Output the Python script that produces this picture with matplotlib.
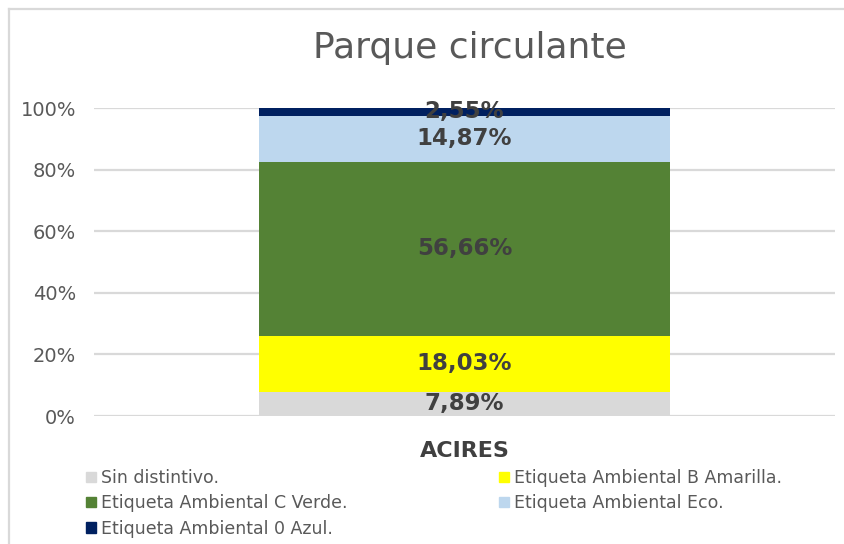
import matplotlib.pyplot as plt
from matplotlib.lines import Line2D
from matplotlib.patches import Patch
from matplotlib.ticker import FuncFormatter

plt.rcParams['font.family'] = ['DejaVu Sans']

# data
category = ['ACIRES']
series = ['Sin distintivo.', 'Etiqueta Ambiental B Amarilla.', 'Etiqueta Ambiental C Verde.',
          'Etiqueta Ambiental Eco.', 'Etiqueta Ambiental 0 Azul.']
values = [7.89, 18.03, 56.66, 14.87, 2.55]
colors = ['#D9D9D9', '#FFFF00', '#548235', '#BDD7EE', '#002060']

fig = plt.figure(figsize=(8.45, 5.44), dpi=100)
ax = fig.add_axes([94 / 845, 1 - 416 / 544, (835 - 94) / 845, (416 - 108) / 544])

# outer chart border (only left and top edges visible in the crop)
bx, by = 9 / 845, 1 - 9 / 544
fig.add_artist(Line2D([bx, bx], [0, by], transform=fig.transFigure, color='#D9D9D9', linewidth=1.6))
fig.add_artist(Line2D([bx, 1], [by, by], transform=fig.transFigure, color='#D9D9D9', linewidth=1.6))

bottom = 0
for name, v, c in zip(series, values, colors):
    b = ax.bar(0, v / 100, bottom=bottom / 100, width=0.556, color=c, label=name, zorder=2)
    labels = [f'{v:.2f}%'.replace('.', ',')]
    ax.bar_label(b, labels=labels, label_type='center', fontsize=16.5, fontweight='bold',
                 color='#404040', zorder=3)
    bottom += v

ax.set_xlim(-0.5, 0.5)
ax.set_ylim(0, 1)
ax.set_yticks([0, 0.2, 0.4, 0.6, 0.8, 1.0])
ax.yaxis.set_major_formatter(FuncFormatter(lambda y, _: f'{y * 100:.0f}%'))
ax.set_xticks([0])
ax.set_xticklabels(category, fontsize=16, fontweight='bold', color='#404040')
ax.tick_params(axis='both', length=0)
ax.tick_params(axis='y', labelsize=14, labelcolor='#595959', pad=13)
ax.tick_params(axis='x', pad=18)
ax.grid(axis='y', color='#D9D9D9', linewidth=1.6, zorder=0)
ax.set_axisbelow(True)
for s in ax.spines.values():
    s.set_visible(False)

fig.text(470 / 845, 1 - 48 / 544, 'Parque circulante', fontsize=26, color='#595959',
         ha='center', va='center')

# legend, row-wise order as in the original (two blocks)
h = [Patch(color=c) for c in colors]
leg_kw = dict(loc='upper left', frameon=False, fontsize=12.5, labelcolor='#595959',
              handlelength=0.55, handleheight=0.55, handletextpad=0.3, labelspacing=0.42,
              borderpad=0, borderaxespad=0)
fig.legend([h[0], h[2], h[4]], [series[0], series[2], series[4]],
           bbox_to_anchor=(86 / 845, 1 - 469 / 544), **leg_kw)
fig.legend([h[1], h[3]], [series[1], series[3]],
           bbox_to_anchor=(499 / 845, 1 - 469 / 544), **leg_kw)

fig.savefig('out.png', dpi=100)
